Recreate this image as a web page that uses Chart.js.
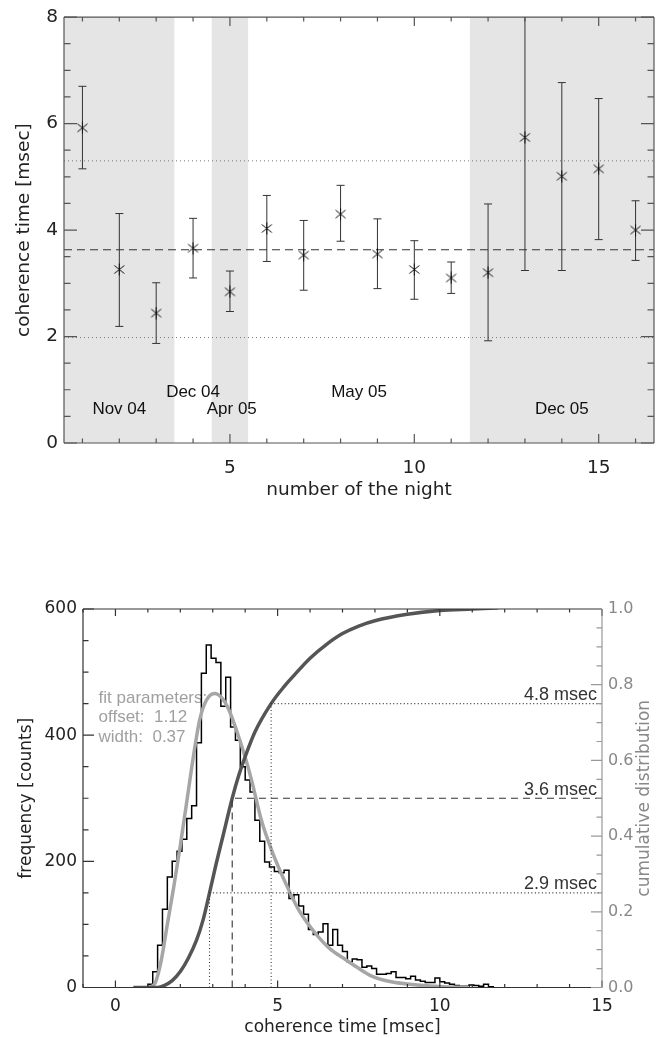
<!doctype html>
<html>
<head>
<meta charset="utf-8">
<title>coherence time</title>
<script src="https://cdn.jsdelivr.net/npm/chart.js"></script>
<style>
  body { margin: 0; background: #fff; }
  canvas { position: absolute; left: 0; }
  #upper { top: 0; }
  #lower { top: 510px; }
</style>
</head>
<body>
<canvas id="upper" width="662" height="510"></canvas>
<canvas id="lower" width="662" height="528"></canvas>
<script>
// ---------- upper panel: coherence time per night ----------
const nights   = [1, 2, 3, 4, 5, 6, 7, 8, 9, 10, 11, 12, 13, 14, 15, 16];
const tauNight = [5.92, 3.26, 2.44, 3.66, 2.84, 4.03, 3.53, 4.30, 3.55, 3.26, 3.10, 3.20, 5.74, 5.01, 5.15, 4.00];
const tauLow   = [5.15, 2.19, 1.87, 3.10, 2.47, 3.41, 2.87, 3.79, 2.90, 2.70, 2.81, 1.92, 3.24, 3.24, 3.82, 3.43];
const tauHigh  = [6.70, 4.31, 3.01, 4.22, 3.23, 4.65, 4.18, 4.84, 4.21, 3.80, 3.40, 4.49, 8.60, 6.77, 6.47, 4.55];
const tauMean = 3.63;
const tauSigma = [1.98, 5.30];
const runStart = [0.5, 4.5, 11.5];   // grey shaded runs
const runEnd   = [3.5, 5.5, 16.5];
const runNames = ['Nov 04', 'Dec 04', 'Apr 05', 'May 05', 'Dec 05'];
const runNameX = [2.0, 4.0, 5.05, 8.5, 14.0];
const runNameY = [0.63, 0.96, 0.63, 0.96, 0.63];
const nightRange = [0.5, 16.5];
const nightTicks = [5, 10, 15];
const tauTicks = [0, 2, 4, 6, 8];

// ---------- lower panel: distribution ----------
const binStart = 1.0, binWidth = 0.15;
const binCounts = [5, 25, 67, 124, 175, 200, 216, 235, 268, 288,
                   388, 498, 543, 522, 515, 446, 492, 413, 392, 350,
                   329, 310, 265, 232, 199, 191, 184, 182, 186, 141,
                   147, 129, 116, 92, 84, 88, 101, 67, 92, 67,
                   57, 41, 45, 44, 32, 34, 30, 21, 21, 22,
                   25, 16, 16, 14, 18, 12, 10, 8, 8, 15,
                   9, 7, 5, 3, 2, 2, 4, 3, 2, 5, 1];
const fitX = [1.0, 1.2, 1.4, 1.6, 1.8, 2.0, 2.2, 2.4, 2.6, 2.8, 3.05, 3.3, 3.5, 3.75, 4.0, 4.2, 4.5, 4.85, 5.25, 5.65, 6.1, 6.6, 7.1, 7.45, 7.9, 8.5, 9.3, 10.1, 10.9];
const fitY = [0, 5, 40, 100, 160, 225, 295, 365, 425, 455, 466, 458, 440, 405, 365, 328, 265, 213, 165, 123, 90, 62, 44, 32, 18, 9, 4, 1, 0];
const cumX = [0.55, 1.3, 1.5, 1.75, 2.0, 2.25, 2.5, 2.7, 2.9, 3.1, 3.3, 3.6, 3.8, 4.0, 4.3, 4.8, 5.2, 5.5, 6.0, 6.5, 7.0, 7.5, 8.0, 9.0, 10.0, 11.0, 11.8];
const cumY = [0, 0, 0.005, 0.018, 0.042, 0.078, 0.125, 0.178, 0.25, 0.325, 0.395, 0.5, 0.56, 0.61, 0.675, 0.75, 0.795, 0.824, 0.87, 0.906, 0.935, 0.955, 0.969, 0.986, 0.996, 1.0, 1.003];
const quartTime  = [2.9, 3.6, 4.8];
const quartLevel = [0.25, 0.5, 0.75];
const quartText  = ['2.9 msec', '3.6 msec', '4.8 msec'];
const quartDash  = [[1, 2.5], [7, 5], [1, 2.5]];
const fitNotes = ['fit parameters:', 'offset:  1.12', 'width:  0.37'];
const fitNoteY = [459, 429, 397];
const timeRange = [-1, 15];
const timeTicks = [0, 5, 10, 15];
const countTicks = [0, 200, 400, 600];
const cumTicks = [0, 0.2, 0.4, 0.6, 0.8, 1.0];

function steps(a, b, d) {
  const out = [];
  for (let v = a; v <= b + 1e-9; v += d) out.push(+v.toFixed(4));
  return out;
}

// IDL-like asterisk symbol
function asterisk(color) {
  const c = document.createElement('canvas');
  c.width = 13; c.height = 13;
  const g = c.getContext('2d');
  g.strokeStyle = color; g.lineWidth = 1;
  g.beginPath();
  g.moveTo(6.5, 0.5); g.lineTo(6.5, 12.5);
  g.moveTo(1.5, 2.5); g.lineTo(11.5, 10.5);
  g.moveTo(11.5, 2.5); g.lineTo(1.5, 10.5);
  g.stroke();
  return c;
}

// box + inward ticks on all four sides
const framePlugin = {
  id: 'frame',
  afterDatasetsDraw(chart, args, opts) {
    const {ctx, chartArea: a, scales} = chart;
    ctx.save();
    opts.sides.forEach(s => {
      const sc = scales[s.scale];
      ctx.strokeStyle = s.color;
      ctx.lineWidth = 1.2;
      ctx.beginPath();
      const tick = (v, len) => {
        const p = sc.getPixelForValue(v);
        if (s.side === 'left') { ctx.moveTo(a.left, p); ctx.lineTo(a.left + len, p); }
        if (s.side === 'right') { ctx.moveTo(a.right, p); ctx.lineTo(a.right - len, p); }
        if (s.side === 'bottom') { ctx.moveTo(p, a.bottom); ctx.lineTo(p, a.bottom - len); }
        if (s.side === 'top') { ctx.moveTo(p, a.top); ctx.lineTo(p, a.top + len); }
      };
      if (s.side === 'left') { ctx.moveTo(a.left, a.top); ctx.lineTo(a.left, a.bottom); }
      if (s.side === 'right') { ctx.moveTo(a.right, a.top); ctx.lineTo(a.right, a.bottom); }
      if (s.side === 'bottom') { ctx.moveTo(a.left, a.bottom); ctx.lineTo(a.right, a.bottom); }
      if (s.side === 'top') { ctx.moveTo(a.left, a.top); ctx.lineTo(a.right, a.top); }
      s.minor.forEach(v => tick(v, s.minorLen));
      s.major.forEach(v => tick(v, s.majorLen));
      ctx.stroke();
    });
    ctx.restore();
  }
};

// free text placed through the scales (or at fixed canvas spots)
function drawNotes(chart, items) {
  const ctx = chart.ctx;
  items.forEach(n => {
    const px = n.xs ? chart.scales[n.xs].getPixelForValue(n.x) : n.x;
    const py = n.ys ? chart.scales[n.ys].getPixelForValue(n.y) : n.y;
    ctx.save();
    ctx.translate(px + (n.dx || 0), py + (n.dy || 0));
    if (n.rot) ctx.rotate(n.rot);
    ctx.font = n.font;
    ctx.fillStyle = n.color;
    ctx.textAlign = n.align || 'center';
    ctx.textBaseline = n.base || 'middle';
    ctx.fillText(n.text, 0, 0);
    ctx.restore();
  });
}
const notesPlugin = {
  id: 'notes',
  beforeDatasetsDraw(chart, args, opts) { drawNotes(chart, opts.under || []); },
  afterDatasetsDraw(chart, args, opts) { drawNotes(chart, opts.over || []); }
};

const fixedTicks = list => scale => { scale.ticks = list.map(v => ({value: v})); };
const tickFont = size => ({family: 'DejaVu Sans', size: size});

// ---------- upper chart ----------
const star = asterisk('#111');
const upperSets = [];
runStart.forEach((s, i) => upperSets.push({
  data: [{x: s, y: 8}, {x: runEnd[i], y: 8}],
  fill: 'start', backgroundColor: '#e5e5e5', borderColor: 'rgba(0,0,0,0)',
  borderWidth: 0, pointRadius: 0, order: 10
}));
upperSets.push({
  data: [{x: nightRange[0], y: tauMean}, {x: nightRange[1], y: tauMean}],
  borderColor: '#333', borderWidth: 1.2, borderDash: [8, 5], pointRadius: 0, order: 5
});
tauSigma.forEach(v => upperSets.push({
  data: [{x: nightRange[0], y: v}, {x: nightRange[1], y: v}],
  borderColor: '#777', borderWidth: 1, borderDash: [1, 3], pointRadius: 0, order: 5
}));
upperSets.push({
  data: nights.flatMap((n, i) => [{x: n, y: tauLow[i]}, {x: n, y: tauHigh[i]}, {x: n, y: null}]),
  borderColor: '#333', borderWidth: 1, pointRadius: 0, spanGaps: false, order: 3
});
upperSets.push({
  data: nights.flatMap((n, i) => [{x: n, y: tauLow[i]}, {x: n, y: tauHigh[i]}]),
  showLine: false, pointStyle: 'line', pointRadius: 4, borderColor: '#333', borderWidth: 1, order: 2
});
upperSets.push({
  data: nights.map((n, i) => ({x: n, y: tauNight[i]})),
  showLine: false, pointStyle: star, pointRadius: 6, order: 1
});

new Chart(document.getElementById('upper'), {
  type: 'line',
  data: {datasets: upperSets},
  options: {
    responsive: false, animation: false, events: [],
    layout: {padding: {top: 13, right: 8, left: 0, bottom: 0}},
    scales: {
      x: {
        type: 'linear', min: nightRange[0], max: nightRange[1],
        afterBuildTicks: fixedTicks(nightTicks),
        afterFit: s => { s.height = 67; },
        grid: {display: false, drawTicks: false}, border: {display: false},
        ticks: {font: tickFont(18.5), color: '#222', padding: 14, maxRotation: 0},
        title: {display: true, text: 'number of the night', font: tickFont(18.5), color: '#222', padding: {bottom: 9}}
      },
      y: {
        min: 0, max: 8,
        afterBuildTicks: fixedTicks(tauTicks),
        afterFit: s => { s.width = 64; },
        grid: {display: false, drawTicks: false}, border: {display: false},
        ticks: {font: tickFont(18.5), color: '#222', padding: 6},
        title: {display: true, text: 'coherence time [msec]', font: tickFont(18.5), color: '#222', padding: {top: 13}}
      }
    },
    plugins: {
      legend: {display: false}, tooltip: {enabled: false},
      frame: {sides: [
        {side: 'left', scale: 'y', color: '#555', major: tauTicks, majorLen: 13, minor: steps(0, 8, 0.5), minorLen: 6.5},
        {side: 'right', scale: 'y', color: '#555', major: tauTicks, majorLen: 13, minor: steps(0, 8, 0.5), minorLen: 6.5},
        {side: 'bottom', scale: 'x', color: '#555', major: nightTicks, majorLen: 9, minor: steps(1, 16, 1), minorLen: 4.5},
        {side: 'top', scale: 'x', color: '#555', major: nightTicks, majorLen: 9, minor: steps(1, 16, 1), minorLen: 4.5}
      ]},
      notes: {over: runNames.map((t, i) => ({
        text: t, xs: 'x', ys: 'y', x: runNameX[i], y: runNameY[i],
        font: '17px "Liberation Sans"', color: '#111'
      }))}
    }
  },
  plugins: [framePlugin, notesPlugin]
});

// ---------- lower chart ----------
const histData = [{x: binStart, y: 0}];
binCounts.forEach((c, i) => histData.push({x: binStart + i * binWidth, y: c}));
histData.push({x: binStart + binCounts.length * binWidth, y: 0});

const lowerSets = [
  {data: histData, stepped: true, borderColor: '#000', borderWidth: 1.5, pointRadius: 0, yAxisID: 'y', order: 4},
  {data: fitX.map((x, i) => ({x: x, y: fitY[i]})), cubicInterpolationMode: 'monotone',
   borderColor: '#a6a6a6', borderWidth: 3.5, pointRadius: 0, yAxisID: 'y', order: 3},
  {data: cumX.map((x, i) => ({x: x, y: cumY[i]})), cubicInterpolationMode: 'monotone',
   borderColor: '#555', borderWidth: 3.5, pointRadius: 0, yAxisID: 'y2', order: 2}
];
quartTime.forEach((t, i) => lowerSets.push({
  data: [{x: t, y: 0}, {x: t, y: quartLevel[i]}, {x: timeRange[1], y: quartLevel[i]}],
  borderColor: '#333', borderWidth: 1.1, borderDash: quartDash[i], pointRadius: 0, yAxisID: 'y2', order: 1
}));

new Chart(document.getElementById('lower'), {
  type: 'line',
  data: {datasets: lowerSets},
  options: {
    responsive: false, animation: false, events: [],
    layout: {padding: {top: 99, right: 0, left: 0, bottom: 0}},
    scales: {
      x: {
        type: 'linear', min: timeRange[0], max: timeRange[1],
        afterBuildTicks: fixedTicks(timeTicks),
        afterFit: s => { s.height = 50.5; },
        grid: {display: false, drawTicks: false}, border: {display: false},
        ticks: {font: tickFont(17), color: '#222', padding: 9, maxRotation: 0},
        title: {display: true, text: 'coherence time [msec]', font: tickFont(17), color: '#222', padding: {bottom: 0}}
      },
      y: {
        min: 0, max: 600,
        afterBuildTicks: fixedTicks(countTicks),
        afterFit: s => { s.width = 83; },
        grid: {display: false, drawTicks: false}, border: {display: false},
        ticks: {font: tickFont(17), color: '#222', padding: 6},
        title: {display: true, text: 'frequency [counts]', font: tickFont(17), color: '#222', padding: {top: 16}}
      },
      y2: {
        position: 'right', min: 0, max: 1,
        afterBuildTicks: fixedTicks(cumTicks),
        afterFit: s => { s.width = 60; },
        grid: {display: false, drawTicks: false}, border: {display: false},
        ticks: {font: tickFont(16), color: '#888', padding: 6, callback: v => v.toFixed(1)}
      }
    },
    plugins: {
      legend: {display: false}, tooltip: {enabled: false},
      frame: {sides: [
        {side: 'left', scale: 'y', color: '#333', major: countTicks, majorLen: 11, minor: steps(0, 600, 50), minorLen: 5.5},
        {side: 'bottom', scale: 'x', color: '#333', major: timeTicks, majorLen: 7, minor: steps(-1, 15, 1), minorLen: 3.5},
        {side: 'top', scale: 'x', color: '#333', major: timeTicks, majorLen: 7, minor: steps(-1, 15, 1), minorLen: 3.5},
        {side: 'right', scale: 'y2', color: '#999', major: cumTicks, majorLen: 11, minor: steps(0, 1, 0.05), minorLen: 5.5}
      ]},
      notes: {
        under: fitNotes.map((t, i) => ({
          text: t, xs: 'x', ys: 'y', x: -0.52, y: fitNoteY[i],
          font: '17px "Liberation Sans"', color: '#a0a0a0', align: 'left'
        })),
        over: quartText.map((t, i) => ({
          text: t, xs: 'x', ys: 'y2', x: timeRange[1], y: quartLevel[i], dx: -5, dy: -3.5,
          font: '18px "Liberation Sans"', color: '#333', align: 'right', base: 'alphabetic'
        })).concat([{
          text: 'cumulative distribution', x: 645, ys: 'y2', y: 0.5, rot: -Math.PI / 2,
          font: '17px "DejaVu Sans"', color: '#888'
        }])
      }
    }
  },
  plugins: [framePlugin, notesPlugin]
});
</script>
</body>
</html>
